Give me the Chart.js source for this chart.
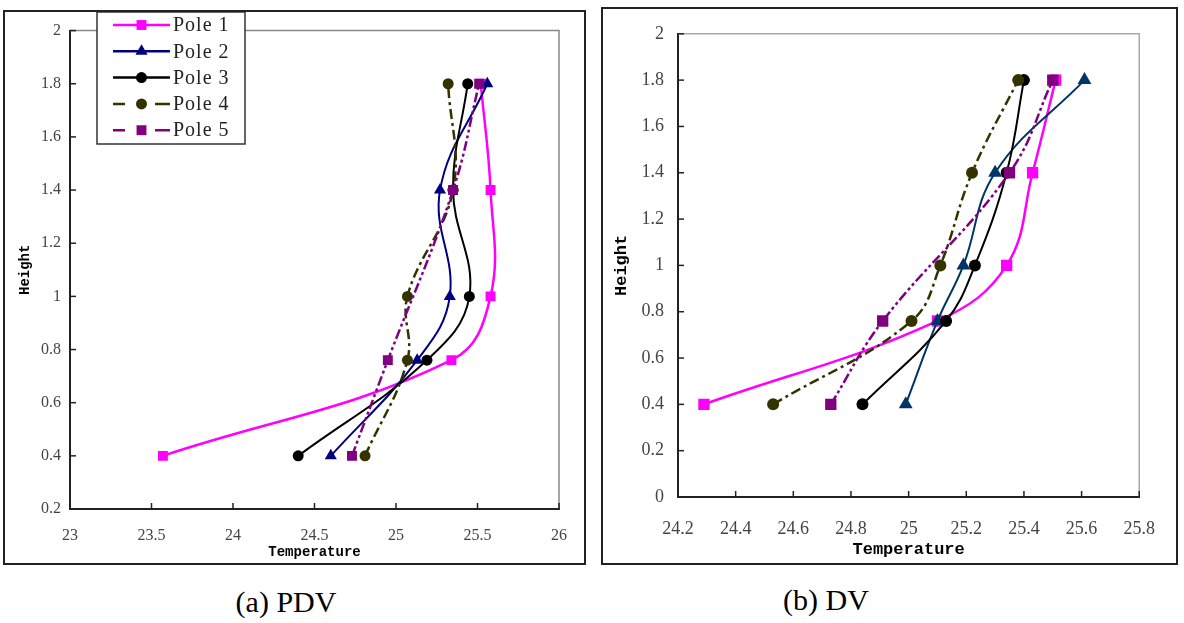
<!DOCTYPE html>
<html>
<head>
<meta charset="utf-8">
<script src="https://cdn.jsdelivr.net/npm/chart.js@4.4.1/dist/chart.umd.min.js"></script>
<style>
  body { margin: 0; background: #fff; width: 1184px; height: 623px; position: relative; overflow: hidden; }
  .panel { position: absolute; border: 2px solid #222; box-sizing: border-box; background: #fff; }
  .panel canvas { display: block; }
  .cap { position: absolute; font-family: 'Liberation Serif', serif; font-size: 30px; color: #000;
         transform: translate(-50%, -50%); white-space: nowrap; }
</style>
</head>
<body>
<div class="panel" style="left:3px;top:10px;width:583px;height:555px"><canvas id="chartA" width="579" height="551"></canvas></div>
<div class="panel" style="left:601px;top:7px;width:577px;height:558px"><canvas id="chartB" width="573" height="554"></canvas></div>
<div class="cap" style="left:286px;top:602px">(a) PDV</div>
<div class="cap" style="left:826px;top:600px">(b) DV</div>

<script>
// heights of the measuring points (same for every pole)
const heights = [0.4, 0.76, 1.0, 1.4, 1.8];
const poleNames = ['Pole 1', 'Pole 2', 'Pole 3', 'Pole 4', 'Pole 5'];

// (a) PDV temperatures (pole 5 has no reading at 1.0 m)
const pdvPole1 = [23.57, 25.34, 25.58, 25.58, 25.52];
const pdvPole2 = [24.60, 25.13, 25.33, 25.27, 25.56];
const pdvPole3 = [24.40, 25.19, 25.45, 25.35, 25.44];
const pdvPole4 = [24.81, 25.07, 25.07, 25.35, 25.32];
const pdvPole5 = [24.73, 24.95, null, 25.35, 25.51];

// (b) DV temperatures
const dvPole1 = [24.29, 25.10, 25.34, 25.43, 25.51];
const dvPole2 = [24.99, 25.10, 25.19, 25.30, 25.61];
const dvPole3 = [24.84, 25.13, 25.23, 25.34, 25.40];
const dvPole4 = [24.53, 25.01, 25.11, 25.22, 25.38];
const dvPole5 = [24.73, 24.91, null, 25.35, 25.50];

// tick labels
const xTicksA = ['23', '23.5', '24', '24.5', '25', '25.5', '26'];
const yTicksA = ['0.2', '0.4', '0.6', '0.8', '1', '1.2', '1.4', '1.6', '1.8', '2'];
const xTicksB = ['24.2', '24.4', '24.6', '24.8', '25', '25.2', '25.4', '25.6', '25.8'];
const yTicksB = ['0', '0.2', '0.4', '0.6', '0.8', '1', '1.2', '1.4', '1.6', '1.8', '2'];

function makeDatasets(series, navy, big) {
    let styles = [
        { color: '#ff00ff', shape: 'rect', r: big ? 8 : 7, w: 2.5, dash: [] },
        { color: navy, shape: 'triangle', r: big ? 8 : 7, w: 2, dash: [] },
        { color: '#000000', shape: 'circle', r: big ? 6 : 5.5, w: 2, dash: [] },
        { color: '#333300', shape: 'circle', r: big ? 6 : 5.5, w: 2.5, dash: [10, 4, 3, 4] },
        { color: '#800080', shape: 'rect', r: big ? 8 : 7, w: 2.5, dash: [10, 3, 3, 3, 3, 3] }
    ];
    return series.map((vals, i) => ({
        label: poleNames[i],
        data: vals.map((t, k) => ({ x: t, y: t === null ? null : heights[k] })),
        borderColor: styles[i].color,
        backgroundColor: styles[i].color,
        borderWidth: styles[i].w,
        borderDash: styles[i].dash,
        pointStyle: styles[i].shape,
        pointRadius: styles[i].r,
        pointBorderWidth: 0,
        pointBackgroundColor: styles[i].color,
        tension: 0.4,
        spanGaps: true,
        order: 5 - i
    }));
}

// inner tick marks + grey frame on top/right of the plot area
const innerTicks = {
    id: 'innerTicks',
    beforeDatasetsDraw(chart, args, opts) {
        const { ctx, chartArea: a, scales: { x, y } } = chart;
        ctx.save();
        ctx.strokeStyle = opts.frame;
        ctx.lineWidth = 1.5;
        ctx.beginPath();
        ctx.moveTo(a.left, a.top);
        ctx.lineTo(a.right, a.top);
        ctx.lineTo(a.right, a.bottom);
        ctx.stroke();
        ctx.strokeStyle = '#222';
        ctx.lineWidth = 1.5;
        x.ticks.forEach(t => {
            let px = x.getPixelForValue(t.value);
            ctx.beginPath();
            ctx.moveTo(px, a.bottom);
            ctx.lineTo(px, a.bottom - 6);
            ctx.stroke();
        });
        y.ticks.forEach(t => {
            let py = y.getPixelForValue(t.value);
            ctx.beginPath();
            ctx.moveTo(a.left, py);
            ctx.lineTo(a.left + 6, py);
            ctx.stroke();
        });
        ctx.restore();
    }
};

function drawMarker(ctx, shape, x, y, r) {
    ctx.beginPath();
    if (shape === 'rect') {
        let s = r * Math.SQRT1_2;
        ctx.rect(x - s, y - s, 2 * s, 2 * s);
    } else if (shape === 'triangle') {
        ctx.moveTo(x, y - r);
        ctx.lineTo(x + r * 0.866, y + r * 0.5);
        ctx.lineTo(x - r * 0.866, y + r * 0.5);
        ctx.closePath();
    } else {
        ctx.arc(x, y, r, 0, Math.PI * 2);
    }
    ctx.fill();
}

// Excel style legend box (line sample + marker + text) floating over the plot
const boxLegend = {
    id: 'boxLegend',
    afterDraw(chart, args, opts) {
        if (!opts.show) return;
        const ctx = chart.ctx;
        ctx.save();
        ctx.fillStyle = '#fff';
        ctx.fillRect(92, 0, 148, 132);
        ctx.strokeStyle = '#333';
        ctx.lineWidth = 1.5;
        ctx.strokeRect(92, 0, 148, 132);
        chart.data.datasets.forEach((ds, i) => {
            let y = 13 + i * 26.3;
            ctx.strokeStyle = ds.borderColor;
            ctx.fillStyle = ds.borderColor;
            ctx.lineWidth = 2.5;
            ctx.beginPath();
            if (ds.borderDash.length) {
                ctx.moveTo(108, y); ctx.lineTo(120, y);
                ctx.moveTo(150, y); ctx.lineTo(165, y);
            } else {
                ctx.moveTo(108, y); ctx.lineTo(165, y);
            }
            ctx.stroke();
            drawMarker(ctx, ds.pointStyle, 136.5, y, ds.pointRadius);
            ctx.fillStyle = '#222';
            ctx.font = '20px "Liberation Serif"';
            ctx.letterSpacing = '1px';
            ctx.textBaseline = 'middle';
            ctx.fillText(ds.label, 168, y + 1);
        });
        ctx.restore();
    }
};

function axisOptions(cfg) {
    return {
        x: {
            type: 'linear', position: 'bottom', min: cfg.xmin, max: cfg.xmax,
            ticks: {
                stepSize: cfg.xstep, autoSkip: false, maxRotation: 0, padding: cfg.xpad, color: '#444',
                font: { family: 'Liberation Serif', size: cfg.tickSize },
                callback: (v, i) => cfg.xlabels[i]
            },
            grid: { display: true, drawOnChartArea: false, drawTicks: false },
            border: { color: '#222', width: 2 },
            title: {
                display: true, text: 'Temperature', color: '#000',
                font: { family: 'Liberation Mono', weight: 'bold', size: cfg.titleSize },
                padding: { top: 0, bottom: cfg.xtitlePad }
            },
            afterFit: s => { s.height = cfg.bottom; }
        },
        y: {
            type: 'linear', min: cfg.ymin, max: 2,
            ticks: {
                stepSize: 0.2, autoSkip: false, padding: cfg.ypad, color: '#444',
                font: { family: 'Liberation Serif', size: cfg.tickSize },
                callback: (v, i) => cfg.ylabels[i]
            },
            grid: { display: true, drawOnChartArea: false, drawTicks: false },
            border: { color: '#222', width: 2 },
            title: {
                display: true, text: 'Height', color: '#000',
                font: { family: 'Liberation Mono', weight: 'bold', size: cfg.titleSize },
                padding: { top: cfg.ytitlePad, bottom: 0 }
            },
            afterFit: s => { s.width = cfg.left; }
        }
    };
}

let chartA = new Chart(document.getElementById('chartA').getContext('2d'), {
    type: 'line',
    data: { datasets: makeDatasets([pdvPole1, pdvPole2, pdvPole3, pdvPole4, pdvPole5], '#000080', false) },
    options: {
        responsive: false, animation: false, events: [],
        layout: { padding: { top: 12, right: 25, left: 0, bottom: 0 } },
        scales: axisOptions({
            xmin: 23, xmax: 26, xstep: 0.5, ymin: 0.2, xlabels: xTicksA, ylabels: yTicksA,
            tickSize: 16, titleSize: 14, xpad: 17, ypad: 9, xtitlePad: 2, ytitlePad: 12,
            left: 65, bottom: 54
        }),
        plugins: {
            legend: { display: false }, tooltip: { enabled: false },
            innerTicks: { frame: '#888' }, boxLegend: { show: true }
        }
    },
    plugins: [innerTicks, boxLegend]
});

let chartB = new Chart(document.getElementById('chartB').getContext('2d'), {
    type: 'line',
    data: { datasets: makeDatasets([dvPole1, dvPole2, dvPole3, dvPole4, dvPole5], '#003366', true) },
    options: {
        responsive: false, animation: false, events: [],
        layout: { padding: { top: 21, right: 16, left: 0, bottom: 0 } },
        scales: axisOptions({
            xmin: 24.2, xmax: 25.8, xstep: 0.2, ymin: 0, xlabels: xTicksB, ylabels: yTicksB,
            tickSize: 18, titleSize: 17, xpad: 21, ypad: 14, xtitlePad: 3, ytitlePad: 9,
            left: 75, bottom: 66
        }),
        plugins: {
            legend: { display: false }, tooltip: { enabled: false },
            innerTicks: { frame: '#aaa' }, boxLegend: { show: false }
        }
    },
    plugins: [innerTicks, boxLegend]
});
</script>
</body>
</html>
